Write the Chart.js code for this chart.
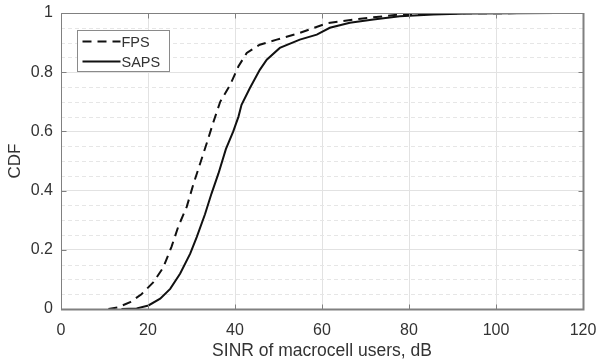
<!DOCTYPE html>
<html>
<head>
<meta charset="utf-8">
<script src="https://cdn.jsdelivr.net/npm/chart.js@4/dist/chart.umd.min.js"></script>
<style>
  html, body { margin: 0; padding: 0; background: #fff; }
  canvas { display: block; }
</style>
</head>
<body>
<canvas id="cdf" width="596" height="362"></canvas>
<script>
// ---- data ----------------------------------------------------------------
var seriesNames = ['FPS', 'SAPS'];

var fpsX = [10.9, 13.0, 15.9, 18.5, 21.2, 23.5, 25.4, 27.0, 28.9, 30.4, 31.95, 33.5, 35.0, 36.6,
            38.9, 40.8, 42.7, 45.7, 49.6, 54.9, 61.1, 67.2, 74.1, 78.0, 90.0, 114.0];
var fpsY = [0, 0.005, 0.023, 0.05, 0.09, 0.14, 0.21, 0.28, 0.345, 0.42, 0.49, 0.56, 0.63, 0.70,
            0.758, 0.82, 0.865, 0.893, 0.91, 0.933, 0.965, 0.978, 0.989, 0.995, 0.999, 1.0];

var sapsX = [13.9, 17.4, 20.1, 22.8, 25.1, 27.4, 29.7, 31.2, 33.1, 34.6, 36.2, 37.9, 39.6, 40.8,
             41.5, 43.4, 45.7, 47.3, 50.3, 54.9, 58.8, 61.8, 66.4, 71.8, 77.9, 85.6, 93.3, 114.0];
var sapsY = [0, 0.002, 0.012, 0.035, 0.068, 0.12, 0.187, 0.243, 0.32, 0.39, 0.458, 0.54, 0.60, 0.65,
             0.69, 0.746, 0.808, 0.842, 0.882, 0.91, 0.927, 0.95, 0.967, 0.978, 0.989, 0.995, 0.998, 1.0];

var xTickLabels = ['0', '20', '40', '60', '80', '100', '120'];
var yTickLabels = ['0', '0.2', '0.4', '0.6', '0.8', '1'];

var xTitle = 'SINR of macrocell users, dB';
var yTitle = 'CDF';

// ---- styling ---------------------------------------------------------------
var FONT = "'Liberation Sans', Arial, Helvetica, sans-serif";
var TEXT = '#333333';
var AXIS = '#808080';
var GRID = '#e2e2e2';
var MINOR = '#e6e6e6';

function pts(xs, ys) { return xs.map(function (x, i) { return { x: x, y: ys[i] }; }); }

// MATLAB-ish frame: minor dashed grid, box, inward ticks, in-plot legend
var matlabFrame = {
  id: 'matlabFrame',
  beforeDatasetsDraw: function (chart) {
    var ctx = chart.ctx, a = chart.chartArea, y = chart.scales.y;
    ctx.save();
    ctx.strokeStyle = MINOR; ctx.lineWidth = 1; ctx.setLineDash([4, 3]);
    for (var v = 0.05; v < 1; v += 0.05) {
      if (Math.abs(v * 5 - Math.round(v * 5)) < 1e-6) continue;
      var py = Math.round(y.getPixelForValue(v)) + 0.5;
      ctx.beginPath(); ctx.moveTo(a.left, py); ctx.lineTo(a.right, py); ctx.stroke();
    }
    ctx.restore();
  },
  afterDatasetsDraw: function (chart) {
    var ctx = chart.ctx, a = chart.chartArea, xs = chart.scales.x, ys = chart.scales.y;
    var L = Math.round(a.left) + 0.5, R = Math.round(a.right) + 0.5;
    var T = Math.round(a.top) + 0.5, B = Math.round(a.bottom) + 0.5;
    ctx.save();
    ctx.strokeStyle = AXIS; ctx.setLineDash([]);
    // left + top thin, bottom + right heavier (as in the source figure)
    ctx.lineWidth = 1;
    ctx.beginPath(); ctx.moveTo(L, B); ctx.lineTo(L, T); ctx.lineTo(R, T); ctx.stroke();
    ctx.lineWidth = 2;
    ctx.beginPath(); ctx.moveTo(L - 0.5, B); ctx.lineTo(R, B); ctx.lineTo(R, T - 0.5); ctx.stroke();
    // inward tick marks
    ctx.lineWidth = 1;
    ctx.beginPath();
    xs.ticks.forEach(function (t) {
      var px = Math.round(xs.getPixelForValue(t.value)) + 0.5;
      ctx.moveTo(px, B); ctx.lineTo(px, B - 5);
      ctx.moveTo(px, T); ctx.lineTo(px, T + 5);
    });
    ys.ticks.forEach(function (t) {
      var py = Math.round(ys.getPixelForValue(t.value)) + 0.5;
      ctx.moveTo(L, py); ctx.lineTo(L + 5, py);
      ctx.moveTo(R, py); ctx.lineTo(R - 5, py);
    });
    ctx.stroke();

    // legend box
    var bx = 77.5, by = 30.5, bw = 92, bh = 41;
    ctx.fillStyle = '#fff';
    ctx.fillRect(bx, by, bw, bh);
    ctx.strokeStyle = '#8a8a8a';
    ctx.strokeRect(bx, by, bw, bh);
    chart.data.datasets.forEach(function (ds, i) {
      var ly = by + 11 + i * 20;
      ctx.strokeStyle = ds.borderColor; ctx.lineWidth = ds.borderWidth;
      ctx.setLineDash(ds.borderDash || []);
      ctx.beginPath(); ctx.moveTo(bx + 5, ly); ctx.lineTo(bx + 43, ly); ctx.stroke();
      ctx.fillStyle = TEXT; ctx.font = '14.5px ' + FONT;
      ctx.textBaseline = 'middle'; ctx.textAlign = 'left';
      ctx.fillText(ds.label, bx + 44, ly + 1);
    });
    ctx.restore();
  }
};

new Chart(document.getElementById('cdf').getContext('2d'), {
  type: 'line',
  data: {
    datasets: [
      { label: seriesNames[0], data: pts(fpsX, fpsY), borderColor: '#111', borderWidth: 2,
        borderDash: [9, 6], pointRadius: 0, tension: 0, fill: false },
      { label: seriesNames[1], data: pts(sapsX, sapsY), borderColor: '#111', borderWidth: 2,
        pointRadius: 0, tension: 0, fill: false }
    ]
  },
  plugins: [matlabFrame],
  options: {
    responsive: false,
    animation: false,
    events: [],
    layout: { padding: { top: 13, right: 13, left: 0, bottom: 0 } },
    plugins: { legend: { display: false }, tooltip: { enabled: false } },
    scales: {
      x: {
        type: 'linear', min: 0, max: 120,
        afterFit: function (s) { s.height = 53; s.paddingRight = 0; },
        afterBuildTicks: function (s) { s.ticks = xTickLabels.map(function (l) { return { value: +l }; }); },
        ticks: { padding: 12, color: TEXT, font: { family: FONT, size: 16 },
                 maxRotation: 0, callback: function (v, i) { return xTickLabels[i]; } },
        grid: { color: GRID, drawTicks: false },
        border: { display: false },
        title: { display: true, text: xTitle, color: TEXT, font: { family: FONT, size: 17.5 },
                 padding: { top: 2, bottom: 0 } }
      },
      y: {
        type: 'linear', min: 0, max: 1,
        afterFit: function (s) { s.width = 61; s.paddingTop = 0; },
        afterBuildTicks: function (s) { s.ticks = yTickLabels.map(function (l) { return { value: +l }; }); },
        ticks: { padding: 8, color: TEXT, font: { family: FONT, size: 16 },
                 callback: function (v, i) { return yTickLabels[i]; } },
        grid: { color: GRID, drawTicks: false },
        border: { display: false },
        title: { display: true, text: yTitle, color: TEXT, font: { family: FONT, size: 17 },
                 padding: { top: 5, bottom: 0 } }
      }
    }
  }
});
</script>
</body>
</html>
